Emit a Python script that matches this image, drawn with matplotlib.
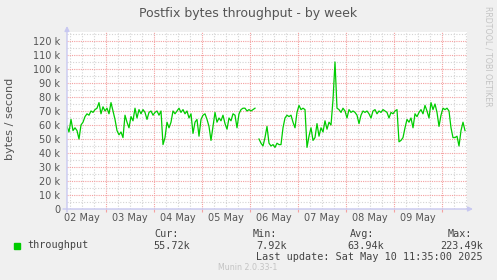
import matplotlib
matplotlib.use('Agg')
import matplotlib.pyplot as plt
from matplotlib.patches import Rectangle
import numpy as np

title = 'Postfix bytes throughput - by week'
y_label = 'bytes / second'
day_labels = ['02 May', '03 May', '04 May', '05 May', '06 May', '07 May', '08 May', '09 May']
first_day = 2                 # 02 May, day-of-month used as x unit
start_day = 2 + 4.5 / 24      # left edge of plot: 02 May 04:30
span_days = 400 / 48          # munin week view: 400 px, 48 px per day

# hourly throughput in k bytes/s (nan = no data)
throughput = [
    59, 55, 64, 56, 58, 56, 50, 60, 62, 66,
    68, 67, 70, 69, 71, 72, 76, 68, 73, 70,
    72, 68, 76, 70, 64, 56, 53, 55, 51, 67,
    62, 58, 66, 63, 72, 65, 71, 68, 71, 69,
    64, 69, 70, 67, 69, 70, 67, 70, 46, 51,
    62, 58, 62, 70, 68, 70, 72, 69, 71, 68,
    70, 65, 68, 54, 62, 64, 52, 64, 67, 68,
    64, 59, 49, 59, 69, 62, 65, 63, 67, 61,
    57, 65, 63, 68, 67, 58, 68, 71, 72, 72,
    70, 71, 70, 71, 72, np.nan, 50, 47, 45, 51,
    59, 47, 45, 46, 44, 47, 46, 46, 58, 65,
    67, 66, 67, 62, 58, 69, 74, 71, 72, 71,
    44, 52, 58, 49, 51, 61, 52, 58, 55, 63,
    57, 62, 60, 78, 105, 72, 71, 69, 72, 70,
    65, 71, 69, 70, 69, 67, 61, 67, 70, 69,
    70, 68, 65, 70, 71, 68, 70, 69, 71, 70,
    69, 65, 69, 68, 70, 71, 48, 49, 51, 58,
    64, 62, 65, 58, 68, 66, 69, 71, 68, 74,
    70, 65, 76, 71, 75, 69, 59, 67, 72, 71,
    72, 70, 58, 51, 51, 52, 45, 56, 62, 56,
]

y_ticks = list(range(0, 130, 10))
stat_names = ['Cur:', 'Min:', 'Avg:', 'Max:']
stat_values = ['55.72k', '7.92k', '63.94k', '223.49k']
series_name = 'throughput'
last_update = 'Last update: Sat May 10 11:35:00 2025'
footer = 'Munin 2.0.33-1'
side_note = 'RRDTOOL / TOBI OETIKER'

W, H = 497, 280
TXT = '#555555'
AXC = '#c8c8f0'
GREEN = '#00cc00'


def main():
    fig = plt.figure(figsize=(W / 100, H / 100), dpi=100, facecolor='#f0f0f0')
    ax = fig.add_axes([67 / W, 71 / H, 400 / W, 177 / H])
    ax.set_facecolor('white')

    t = start_day + np.arange(len(throughput)) / 24
    ax.plot(t, throughput, color=GREEN, lw=0.9, zorder=3)
    ax.set_xlim(start_day, start_day + span_days)
    ax.set_ylim(0, 177 / 1.4)

    # grid: red at midnight / every 10k, gray every 6 h / 5k
    ax.set_xticks(np.arange(3, 11))
    quarters = np.arange(np.ceil(start_day * 4) / 4, start_day + span_days, 0.25)
    ax.set_xticks([q for q in quarters if q % 1], minor=True)
    ax.set_yticks(y_ticks)
    ax.set_yticks(np.arange(5, 126, 10), minor=True)
    ax.grid(which='major', color='#f4a0a0', ls=(0, (1, 1)), lw=0.8, zorder=1)
    ax.grid(which='minor', color='#d4d4d4', ls=(0, (1, 1.5)), lw=0.8, zorder=1)
    ax.set_yticklabels([f'{v} k' if v else '0' for v in y_ticks])
    ax.tick_params(axis='y', which='both', length=0, pad=5, labelsize=7, labelcolor=TXT)
    ax.tick_params(axis='x', which='major', length=2, color='#f4a0a0', labelbottom=False)
    ax.tick_params(axis='x', which='minor', length=0)

    tr = ax.get_xaxis_transform()
    for i, lab in enumerate(day_labels):
        ax.text(first_day + 0.5 + i, -4 / 177, lab, transform=tr, ha='center', va='top',
                fontsize=7, color=TXT)

    for s in ax.spines.values():
        s.set_visible(False)
    ax.annotate('', xy=(0, 1 + 6 / 177), xytext=(0, -3 / 177), xycoords='axes fraction',
                arrowprops=dict(arrowstyle='-|>', color=AXC, lw=1, mutation_scale=7,
                                shrinkA=0, shrinkB=0))
    ax.annotate('', xy=(1 + 6 / 400, 0), xytext=(-4 / 400, 0), xycoords='axes fraction',
                arrowprops=dict(arrowstyle='-|>', color=AXC, lw=1, mutation_scale=7,
                                shrinkA=0, shrinkB=0))

    fig.text(0.5, 1 - 13 / H, title, ha='center', va='center', fontsize=9, color=TXT)
    fig.text(10 / W, 1 - 119 / H, y_label, rotation=90, ha='center', va='center',
             fontsize=8.1, color=TXT)
    fig.text(488 / W, 1 - 56 / H, side_note, rotation=270, ha='center', va='center',
             fontsize=5.7, color='#c4c4c4')

    # legend block
    mono = dict(family='DejaVu Sans Mono', fontsize=7.3, color='#444444')
    fig.add_artist(Rectangle((14 / W, 1 - 248.5 / H), 6 / W, 6 / H,
                             transform=fig.transFigure, color=GREEN))
    fig.text(27 / W, 1 - 245.5 / H, series_name, ha='left', va='center', **mono)
    for name, val, xl, xr in zip(stat_names, stat_values, [154, 253, 350, 448],
                                 [190, 287, 384, 483]):
        fig.text(xl / W, 1 - 234 / H, name, ha='left', va='center', **mono)
        fig.text(xr / W, 1 - 246 / H, val, ha='right', va='center', **mono)
    fig.text(483 / W, 1 - 257.5 / H, last_update, ha='right', va='center', **mono)
    fig.text(248 / W, 1 - 268 / H, footer, ha='center', va='center', fontsize=5.7,
             color='#c4c4c4')

    fig.savefig('out.png', dpi=100, facecolor=fig.get_facecolor())


if __name__ == '__main__':
    main()
